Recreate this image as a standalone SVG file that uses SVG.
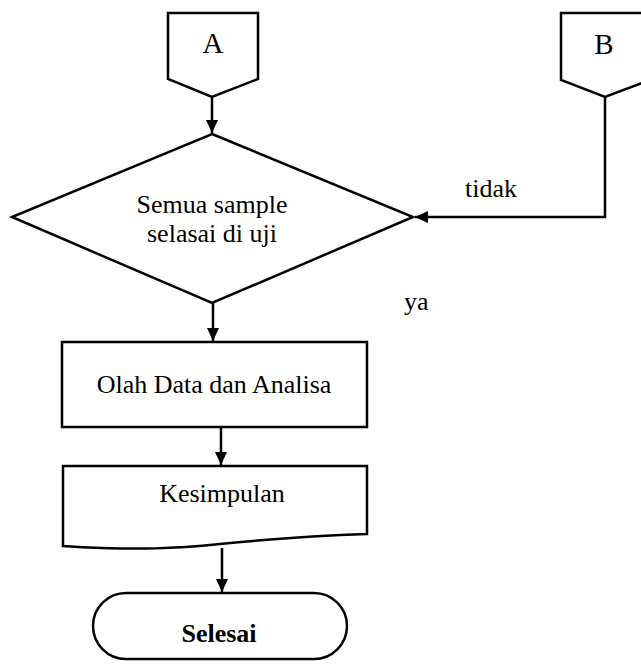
<svg xmlns="http://www.w3.org/2000/svg" width="641" height="664" viewBox="0 0 641 664">
<style>
.s{fill:#fff;stroke:#000;stroke-width:2.5}
.c{fill:none;stroke:#000;stroke-width:2.5}
text{font-family:"Liberation Serif","Times New Roman",serif;fill:#000;font-size:26px}
.m{text-anchor:middle}
.big{font-size:29px}
.b{font-weight:bold}
</style>
<defs>
<marker id="ah" markerWidth="13" markerHeight="12" refX="13" refY="6" orient="auto" markerUnits="userSpaceOnUse">
<path d="M0,0 L13,6 L0,12 Z" fill="#000"/>
</marker>
</defs>
<rect width="641" height="664" fill="#fff"/>
<g id="connectors">
<line class="c" x1="212" y1="97" x2="212" y2="133" marker-end="url(#ah)"/>
<polyline class="c" points="605,97 605,217 415,217" marker-end="url(#ah)"/>
<line class="c" x1="213" y1="303" x2="213" y2="341" marker-end="url(#ah)"/>
<line class="c" x1="221" y1="427" x2="221" y2="465" marker-end="url(#ah)"/>
<line class="c" x1="222" y1="548" x2="222" y2="592" marker-end="url(#ah)"/>
</g>
<g id="A">
<path class="s" d="M168,13 H258 V79 L212,97 L168,79 Z"/>
<text class="m big" x="213" y="53">A</text>
</g>
<g id="B">
<path class="s" d="M561,13 H650 V80 L605,97 L561,80 Z"/>
<text class="m big" x="604" y="54">B</text>
</g>
<g id="decision">
<polygon class="s" points="212,134 413,217 212,303 12,217"/>
<text class="m" x="212" y="213">Semua sample</text>
<text class="m" x="212" y="242">selasai di uji</text>
</g>
<text x="465" y="197">tidak</text>
<text x="404" y="310">ya</text>
<g id="olah">
<rect class="s" x="62" y="342" width="305" height="85"/>
<text class="m" x="214" y="393">Olah Data dan Analisa</text>
</g>
<g id="kesimpulan">
<path class="s" d="M63,466 H367 V534 C300,536 260,540 220,544 C180,548 140,551 63,546 Z"/>
<text class="m" x="222" y="502">Kesimpulan</text>
</g>
<g id="selesai">
<rect class="s" x="93" y="593" width="254" height="66" rx="33" ry="33"/>
<text class="m b" x="219" y="642">Selesai</text>
</g>
</svg>
